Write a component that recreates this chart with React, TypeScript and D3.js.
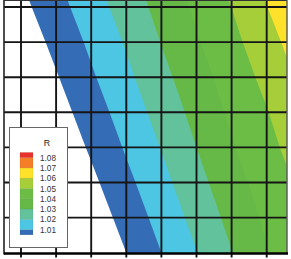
import React, { useMemo } from 'react';
import * as d3 from 'd3';

// mesh node indices (0 = first drawn grid line); one extra node on each outer side
const nodeCols = [-1, 0, 1, 2, 3, 4, 5, 6, 7, 8];
const nodeRows = [-1, 0, 1, 2, 3, 4, 5, 6, 7];

// R read at the mesh nodes, one row per array, top to bottom
const rRowM1 = [0.9916, 1.0007, 1.0098, 1.0185, 1.0276, 1.0362, 1.0446, 1.0537, 1.0635, 1.0734];
const rRow0 = [0.9879, 0.9972, 1.0064, 1.0154, 1.0244, 1.0333, 1.0418, 1.0501, 1.0598, 1.0695];
const rRow1 = [0.9841, 0.9935, 1.0028, 1.012, 1.021, 1.0303, 1.039, 1.0472, 1.0561, 1.0656];
const rRow2 = [0.9804, 0.9898, 0.9992, 1.0087, 1.0178, 1.0271, 1.0361, 1.0444, 1.0527, 1.062];
const rRow3 = [0.9765, 0.986, 0.9956, 1.0051, 1.0145, 1.0238, 1.0331, 1.0418, 1.0495, 1.0585];
const rRow4 = [0.9725, 0.9822, 0.9918, 1.0015, 1.0111, 1.0204, 1.03, 1.0392, 1.0469, 1.0552];
const rRow5 = [0.9684, 0.9782, 0.9879, 0.9977, 1.0075, 1.017, 1.0267, 1.0362, 1.0443, 1.052];
const rRow6 = [0.9642, 0.9741, 0.984, 0.9939, 1.0038, 1.0136, 1.0232, 1.033, 1.0419, 1.0491];
const rRow7 = [0.96, 0.97, 0.98, 0.99, 1.0, 1.01, 1.0197, 1.0297, 1.0394, 1.0466];
const rField = [rRowM1, rRow0, rRow1, rRow2, rRow3, rRow4, rRow5, rRow6, rRow7];

// contour levels and fill of the band starting at each level
const levels = [1.0, 1.01, 1.02, 1.03, 1.04, 1.05, 1.06, 1.07, 1.08];
const levelColors = ['#346cb5', '#4cc6e3', '#62c29b', '#66b946', '#6cbd45', '#a6ce39', '#fde12a', '#f47f26', '#e8312b'];
const legendTicks = [1.08, 1.07, 1.06, 1.05, 1.04, 1.03, 1.02, 1.01];

const gridIdx = [0, 1, 2, 3, 4, 5, 6, 7];

export default function App() {
  const W = 291;
  const H = 259;
  const x = d3.scaleLinear().domain([0, 7]).range([21, 266.7]);
  const y = d3.scaleLinear().domain([0, 7]).range([7, 252.7]);
  const left = 4, right = 287, top = 0, bottom = 253.5;

  const bands = useMemo(() => {
    const flat = rField.flat();
    const contours = d3.contours().size([nodeCols.length, nodeRows.length]).thresholds(levels)(flat);
    const proj = d3.geoTransform({
      point(px: number, py: number) {
        // @ts-ignore
        this.stream.point(x(nodeCols[0] + px - 0.5), y(nodeRows[0] + py - 0.5));
      },
    });
    const path = d3.geoPath(proj);
    return contours.map((c, i) => ({ d: path(c as any) || '', color: levelColors[i] }));
  }, []);

  // legend
  const ly = d3.scaleLinear().domain([1.08, 1.01]).range([157.6, 229.7]);
  const swatches = levels.map((lv, k) => {
    const lo = Math.max(lv, 1.005);
    const hi = Math.min(k < levels.length - 1 ? levels[k + 1] : 1.085, 1.085);
    return { y0: ly(hi), y1: ly(lo), color: levelColors[k] };
  });

  return (
    <svg width={W} height={H} style={{ position: 'absolute', left: 0, top: 0, background: '#fff' }}
      fontFamily="'Liberation Sans', Arial, sans-serif">
      <defs>
        <clipPath id="plotClip">
          <rect x={left} y={top} width={right - left} height={bottom - top} />
        </clipPath>
      </defs>

      <g clipPath="url(#plotClip)">
        <rect x={left} y={top} width={right - left} height={bottom - top} fill="#fff" />
        {bands.map((b, i) => (
          <path key={i} d={b.d} fill={b.color} stroke="none" />
        ))}
      </g>

      {/* mesh */}
      <g stroke="#151515" strokeWidth={1.9}>
        {gridIdx.map(i => (
          <line key={'v' + i} x1={x(i)} x2={x(i)} y1={top} y2={bottom + 4} />
        ))}
        {gridIdx.slice(0, 7).map(j => (
          <line key={'h' + j} x1={left} x2={right} y1={y(j)} y2={y(j)} />
        ))}
      </g>

      {/* frame */}
      <line x1={left} x2={left} y1={top} y2={bottom + 1} stroke="#222" strokeWidth={1.6} />
      <line x1={left} x2={right} y1={0.5} y2={0.5} stroke="#333" strokeWidth={1} />
      <line x1={right} x2={right} y1={top} y2={bottom} stroke="#555" strokeWidth={1.4} />
      <line x1={left} x2={right + 1} y1={bottom} y2={bottom} stroke="#000" strokeWidth={2.6} />

      {/* legend */}
      <g>
        <rect x={9.5} y={127.5} width={58} height={120} fill="#fff" stroke="#666" strokeWidth={1} />
        <text x={47} y={146} fontSize={8.8} textAnchor="middle" fill="#222">R</text>
        {swatches.map((s, i) => (
          <rect key={i} x={20} y={s.y0} width={13} height={s.y1 - s.y0} fill={s.color}
            stroke="rgba(0,0,0,0.12)" strokeWidth={0.5} />
        ))}
        {legendTicks.map(t => (
          <text key={t} x={40} y={ly(t) + 3} fontSize={8.2} fill="#333">{t.toFixed(2)}</text>
        ))}
      </g>
    </svg>
  );
}
